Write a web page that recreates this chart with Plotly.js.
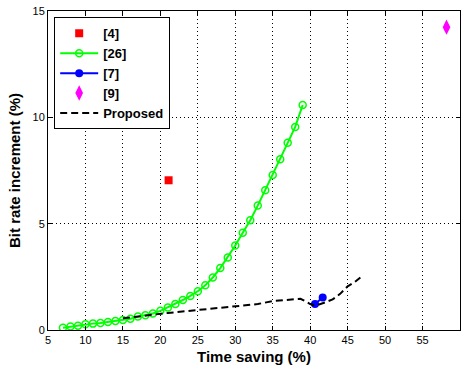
<!DOCTYPE html>
<html><head><meta charset="utf-8">
<script src="https://cdn.plot.ly/plotly-3.0.1.min.js"></script>
<style>html,body{margin:0;padding:0;background:#fff}#c{width:465px;height:372px}</style>
</head><body><div id="c"></div>
<script>
const ref4X = [21.1], ref4Y = [7.04];
const ref26X = [7,8,9,10,11,12,13,14,15,16,17,18,19,20,21,22,23,24,25,26,27,28,29,30,31,32,33,34,35,36,37,38,39];
const ref26Y = [0.11,0.16,0.2,0.27,0.3,0.33,0.38,0.42,0.47,0.53,0.63,0.69,0.78,0.9,1.06,1.22,1.41,1.6,1.82,2.1,2.47,2.91,3.41,3.97,4.57,5.16,5.85,6.57,7.29,8.03,8.8,9.55,10.58];
const ref7X = [40.64, 41.67], ref7Y = [1.22, 1.53];
const ref9X = [58.2], ref9Y = [14.24];
const propX = [15,17,19,21,23,25,27,29,31,33,35,37,38,38.7,39.3,40,40.5,41,42,43,44,45,46,46.7];
const propY = [0.55,0.62,0.72,0.8,0.87,0.94,1.0,1.07,1.14,1.22,1.36,1.42,1.46,1.47,1.36,1.22,1.17,1.18,1.3,1.44,1.7,2.05,2.27,2.47];
const xTicks = [5,10,15,20,25,30,35,40,45,50,55,60];
const yTicks = [0,5,10,15];

const traces = [
  {x: ref4X, y: ref4Y, name: '[4]', mode: 'markers', marker: {symbol: 'square', color: '#ff0000', size: 8}},
  {x: ref26X, y: ref26Y, name: '[26]', mode: 'lines+markers', line: {color: '#00ff00', width: 2},
   marker: {symbol: 'circle-open', color: '#00ff00', size: 7, line: {width: 1.5, color: '#00ff00'}}},
  {x: ref7X, y: ref7Y, name: '[7]', mode: 'lines+markers', line: {color: '#0000ff', width: 2},
   marker: {symbol: 'circle', color: '#0000ff', size: 8}},
  {x: ref9X, y: ref9Y, name: '[9]', mode: 'markers', marker: {symbol: 'diamond-tall', color: '#ff00ff', size: 11}},
  {x: propX, y: propY, name: 'Proposed', mode: 'lines', line: {color: '#000000', width: 2, dash: '7px,4px'}}
];

const FONT = 'Liberation Sans, Arial, sans-serif';
const axisCommon = {
  showline: true, linecolor: '#000', linewidth: 1, mirror: 'ticks',
  ticks: 'inside', ticklen: 4, tickcolor: '#000',
  showgrid: true, gridcolor: '#000', griddash: '1px,3px', gridwidth: 1,
  zeroline: false, tickfont: {family: FONT, size: 11, color: '#000'}
};

const layout = {
  width: 465, height: 372,
  margin: {l: 48, r: 5, t: 11, b: 42},
  paper_bgcolor: '#fff', plot_bgcolor: '#fff',
  showlegend: true,
  xaxis: Object.assign({}, axisCommon, {range: [5, 60], tickvals: xTicks,
    title: {text: 'Time saving (%)', font: {family: FONT, size: 15, color: '#000', weight: 'bold'}, standoff: 6}}),
  yaxis: Object.assign({}, axisCommon, {range: [0, 15], tickvals: yTicks,
    title: {text: 'Bit rate increment (%)', font: {family: FONT, size: 15, color: '#000', weight: 'bold'}, standoff: 8}}),
  legend: {x: 0.015, y: 0.98, xanchor: 'left', yanchor: 'top', bgcolor: '#fff',
    bordercolor: '#000', borderwidth: 1, tracegroupgap: 0, itemwidth: 38,
    font: {family: FONT, size: 13, color: '#000', weight: 'bold'}}
};

Plotly.newPlot('c', traces, layout, {staticPlot: true, displayModeBar: false});
</script>
</body></html>
